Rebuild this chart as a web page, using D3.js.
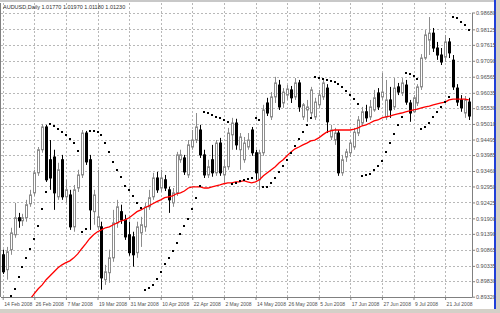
<!DOCTYPE html>
<html>
<head>
<meta charset="utf-8">
<script src="https://cdn.jsdelivr.net/npm/d3@7"></script>
<style>
  html, body { margin: 0; padding: 0; background: #fff; }
  svg { display: block; }
</style>
</head>
<body>
<div id="chart"></div>
<script>
// AUDUSD daily, 14 Feb 2008 .. 29 Jul 2008 (one bar per weekday)
const opens = [
  0.9070, 0.9021, 0.9087, 0.9136, 0.9192, 0.9182, 0.9192, 0.9238, 0.9274, 0.9340,
  0.9416, 0.9491, 0.9383, 0.9392, 0.9261, 0.9383, 0.9261, 0.9267, 0.9162, 0.9290,
  0.9333, 0.9471, 0.9383, 0.9212, 0.9162, 0.9162, 0.8988, 0.9011, 0.9060, 0.9175,
  0.9212, 0.9185, 0.9136, 0.9129, 0.9077, 0.9142, 0.9162, 0.9228, 0.9261, 0.9323,
  0.9290, 0.9317, 0.9284, 0.9241, 0.9274, 0.9383, 0.9389, 0.9333, 0.9425, 0.9448,
  0.9481, 0.9399, 0.9333, 0.9383, 0.9340, 0.9438, 0.9333, 0.9360, 0.9465, 0.9504,
  0.9416, 0.9383, 0.9425, 0.9481, 0.9406, 0.9317, 0.9406, 0.9570, 0.9524, 0.9590,
  0.9629, 0.9570, 0.9596, 0.9613, 0.9590, 0.9636, 0.9524, 0.9547, 0.9537, 0.9524,
  0.9564, 0.9590, 0.9619, 0.9458, 0.9448, 0.9471, 0.9340, 0.9392, 0.9406, 0.9425,
  0.9471, 0.9504, 0.9541, 0.9524, 0.9547, 0.9603, 0.9590, 0.9524, 0.9580, 0.9557,
  0.9623, 0.9603, 0.9629, 0.9570, 0.9541, 0.9570, 0.9623, 0.9718, 0.9777, 0.9800,
  0.9751, 0.9728, 0.9721, 0.9771, 0.9711, 0.9619, 0.9580, 0.9537, 0.9573
];
const highs = [
  0.9087, 0.9096, 0.9159, 0.9241, 0.9208, 0.9205, 0.9251, 0.9284, 0.9350, 0.9425,
  0.9501, 0.9498, 0.9448, 0.9416, 0.9373, 0.9399, 0.9317, 0.9284, 0.9300, 0.9350,
  0.9481, 0.9478, 0.9399, 0.9284, 0.9350, 0.9179, 0.9037, 0.9087, 0.9218, 0.9251,
  0.9235, 0.9202, 0.9179, 0.9146, 0.9179, 0.9195, 0.9241, 0.9284, 0.9340, 0.9343,
  0.9350, 0.9333, 0.9294, 0.9290, 0.9409, 0.9416, 0.9399, 0.9448, 0.9481, 0.9537,
  0.9498, 0.9416, 0.9383, 0.9432, 0.9448, 0.9455, 0.9383, 0.9488, 0.9521, 0.9518,
  0.9471, 0.9458, 0.9471, 0.9491, 0.9416, 0.9416, 0.9564, 0.9587, 0.9606, 0.9656,
  0.9646, 0.9619, 0.9629, 0.9626, 0.9652, 0.9646, 0.9570, 0.9580, 0.9623, 0.9587,
  0.9613, 0.9646, 0.9632, 0.9498, 0.9488, 0.9481, 0.9399, 0.9419, 0.9448, 0.9488,
  0.9527, 0.9557, 0.9564, 0.9580, 0.9613, 0.9619, 0.9669, 0.9646, 0.9623, 0.9652,
  0.9636, 0.9652, 0.9646, 0.9580, 0.9596, 0.9632, 0.9731, 0.9810, 0.9853, 0.9817,
  0.9771, 0.9751, 0.9794, 0.9784, 0.9728, 0.9632, 0.9596, 0.9593, 0.9587
];
const lows = [
  0.9007, 0.8988, 0.9070, 0.9126, 0.9159, 0.9165, 0.9179, 0.9228, 0.9264, 0.9330,
  0.9406, 0.9310, 0.9284, 0.9218, 0.9251, 0.9251, 0.9241, 0.9152, 0.9146, 0.9277,
  0.9323, 0.9366, 0.9152, 0.9169, 0.9152, 0.8955, 0.8971, 0.8978, 0.9047, 0.9159,
  0.9172, 0.9119, 0.9067, 0.9031, 0.9060, 0.9096, 0.9146, 0.9218, 0.9251, 0.9274,
  0.9277, 0.9280, 0.9208, 0.9228, 0.9264, 0.9373, 0.9333, 0.9323, 0.9416, 0.9438,
  0.9389, 0.9323, 0.9323, 0.9327, 0.9330, 0.9330, 0.9307, 0.9350, 0.9416, 0.9416,
  0.9350, 0.9373, 0.9416, 0.9396, 0.9317, 0.9284, 0.9396, 0.9527, 0.9514, 0.9570,
  0.9547, 0.9554, 0.9580, 0.9570, 0.9580, 0.9541, 0.9514, 0.9508, 0.9524, 0.9514,
  0.9554, 0.9580, 0.9471, 0.9448, 0.9432, 0.9330, 0.9330, 0.9376, 0.9392, 0.9416,
  0.9461, 0.9494, 0.9508, 0.9514, 0.9541, 0.9547, 0.9580, 0.9514, 0.9521, 0.9547,
  0.9596, 0.9593, 0.9564, 0.9508, 0.9537, 0.9560, 0.9613, 0.9712, 0.9728, 0.9738,
  0.9712, 0.9695, 0.9705, 0.9718, 0.9613, 0.9560, 0.9541, 0.9521, 0.9514
];
const closes = [
  0.9014, 0.9080, 0.9142, 0.9192, 0.9182, 0.9192, 0.9235, 0.9267, 0.9340, 0.9416,
  0.9491, 0.9317, 0.9323, 0.9274, 0.9350, 0.9261, 0.9284, 0.9162, 0.9284, 0.9333,
  0.9471, 0.9376, 0.9218, 0.9267, 0.9195, 0.8994, 0.9014, 0.9060, 0.9175, 0.9228,
  0.9185, 0.9129, 0.9077, 0.9070, 0.9162, 0.9169, 0.9228, 0.9258, 0.9323, 0.9284,
  0.9323, 0.9290, 0.9251, 0.9274, 0.9399, 0.9399, 0.9343, 0.9432, 0.9448, 0.9491,
  0.9399, 0.9333, 0.9360, 0.9340, 0.9438, 0.9340, 0.9360, 0.9471, 0.9504, 0.9432,
  0.9458, 0.9438, 0.9448, 0.9406, 0.9340, 0.9406, 0.9547, 0.9537, 0.9590, 0.9636,
  0.9557, 0.9606, 0.9616, 0.9587, 0.9636, 0.9557, 0.9564, 0.9557, 0.9613, 0.9573,
  0.9596, 0.9636, 0.9508, 0.9481, 0.9471, 0.9340, 0.9383, 0.9409, 0.9438, 0.9474,
  0.9514, 0.9541, 0.9521, 0.9557, 0.9587, 0.9557, 0.9606, 0.9580, 0.9547, 0.9619,
  0.9606, 0.9636, 0.9573, 0.9537, 0.9587, 0.9623, 0.9718, 0.9794, 0.9800, 0.9751,
  0.9728, 0.9705, 0.9771, 0.9735, 0.9623, 0.9573, 0.9554, 0.9580, 0.9527
];
// Parabolic SAR (null = below the visible range)
const sar = [
  null, null, 0.8935, 0.8958, 0.8998, 0.9031, 0.9060, 0.9090, 0.9123, 0.9165,
  0.9221, 0.9277, 0.9501, 0.9495, 0.9484, 0.9474, 0.9465, 0.9452, 0.9438, 0.9412,
  0.9146, 0.9155, 0.9478, 0.9478, 0.9474, 0.9465, 0.9438, 0.9409, 0.9376, 0.9350,
  0.9327, 0.9297, 0.9284, 0.9264, 0.9241, 0.9225, 0.8955, 0.8961, 0.8971, 0.8991,
  0.9014, 0.9040, 0.9060, 0.9083, 0.9110, 0.9139, 0.9165, 0.9188, 0.9221, 0.9258,
  0.9297, 0.9541, 0.9537, 0.9531, 0.9524, 0.9521, 0.9514, 0.9508, 0.9304, 0.9307,
  0.9314, 0.9317, 0.9320, 0.9323, 0.9521, 0.9514, 0.9294, 0.9294, 0.9307, 0.9323,
  0.9343, 0.9363, 0.9383, 0.9406, 0.9429, 0.9452, 0.9474, 0.9498, 0.9521, 0.9656,
  0.9652, 0.9649, 0.9646, 0.9642, 0.9639, 0.9632, 0.9623, 0.9610, 0.9596, 0.9583,
  0.9567, 0.9330, 0.9333, 0.9337, 0.9350, 0.9363, 0.9379, 0.9409, 0.9438, 0.9468,
  0.9498, 0.9524, 0.9669, 0.9666, 0.9659, 0.9649, 0.9484, 0.9491, 0.9504, 0.9524,
  0.9541, 0.9557, 0.9573, 0.9590, 0.9853, 0.9850, 0.9837, 0.9827, 0.9810
];
// moving average (red line), starts below the visible range
const ma = [
  null, null, null, null, null, null, null, 0.8925, 0.8942, 0.8958,
  0.8971, 0.8988, 0.9001, 0.9014, 0.9027, 0.9037, 0.9044, 0.9050, 0.9060, 0.9073,
  0.9090, 0.9106, 0.9123, 0.9136, 0.9146, 0.9152, 0.9159, 0.9162, 0.9169, 0.9175,
  0.9182, 0.9185, 0.9192, 0.9202, 0.9212, 0.9218, 0.9225, 0.9231, 0.9238, 0.9245,
  0.9251, 0.9258, 0.9261, 0.9264, 0.9271, 0.9274, 0.9280, 0.9290, 0.9294, 0.9294,
  0.9294, 0.9290, 0.9290, 0.9294, 0.9297, 0.9300, 0.9304, 0.9307, 0.9307, 0.9310,
  0.9310, 0.9314, 0.9310, 0.9307, 0.9310, 0.9317, 0.9330, 0.9340, 0.9350, 0.9360,
  0.9373, 0.9383, 0.9396, 0.9409, 0.9419, 0.9425, 0.9432, 0.9438, 0.9445, 0.9448,
  0.9455, 0.9465, 0.9474, 0.9478, 0.9481, 0.9481, 0.9481, 0.9481, 0.9481, 0.9484,
  0.9488, 0.9495, 0.9498, 0.9504, 0.9511, 0.9514, 0.9521, 0.9524, 0.9527, 0.9531,
  0.9534, 0.9537, 0.9541, 0.9544, 0.9547, 0.9550, 0.9554, 0.9557, 0.9560, 0.9564,
  0.9567, 0.9570, 0.9573, 0.9580, 0.9583, 0.9583, 0.9583, 0.9583, 0.9580
];
const priceTicks = [
  0.98680, 0.98125, 0.97615, 0.97090, 0.96565, 0.96035, 0.95530, 0.95010, 0.94495,
  0.93985, 0.93460, 0.92950, 0.92425, 0.91900, 0.91390, 0.90865, 0.90335, 0.89830, 0.89320
];
const dateTicks = [
  '14 Feb 2008', '26 Feb 2008', '7 Mar 2008', '19 Mar 2008', '31 Mar 2008',
  '10 Apr 2008', '22 Apr 2008', '2 May 2008', '14 May 2008', '26 May 2008',
  '5 Jun 2008', '17 Jun 2008', '27 Jun 2008', '9 Jul 2008', '21 Jul 2008'
];
const title = 'AUDUSD,Daily  1.01770 1.01970 1.01180 1.01230';

// weekday bars starting 14 Feb 2008
const parse = d3.timeParse('%d %b %Y');
const fmt = d3.timeFormat('%-d %b %Y');
const days = d3.timeDay.range(parse('14 Feb 2008'), parse('31 Jul 2008'))
  .filter(d => d.getDay() !== 0 && d.getDay() !== 6)
  .slice(0, closes.length);

const bars = closes.map((c, i) => ({
  i, date: days[i], o: opens[i], h: highs[i], l: lows[i], c, sar: sar[i], ma: ma[i]
}));

const W = 500, H = 313;
const plot = { left: 1, top: 3, right: 472, bottom: 297 };
const font = '"Liberation Sans", Arial, sans-serif';

const svg = d3.select('#chart').append('svg')
  .attr('width', W).attr('height', H)
  .style('font-family', font);

// window chrome
svg.append('rect').attr('width', W).attr('height', H).attr('fill', '#ffffff');
svg.append('rect').attr('x', 0).attr('y', 309).attr('width', W).attr('height', 4).attr('fill', '#d4d0c8');
svg.append('rect').attr('x', 494).attr('y', 0).attr('width', 2).attr('height', 309).attr('fill', '#1f3fd8');
svg.append('rect').attr('x', 496).attr('y', 0).attr('width', 4).attr('height', 309).attr('fill', '#d4d0c8');
svg.append('rect').attr('x', 0).attr('y', 0).attr('width', 494).attr('height', 2).attr('fill', '#c8c8c8');

const x = d3.scaleLinear().domain([0, 112]).range([2.7, 445.1]);
const y = d3.scaleLinear().domain([0.8932, 0.9868]).range([296.7, 12.5]);

svg.append('clipPath').attr('id', 'clip').append('rect')
  .attr('x', plot.left).attr('y', plot.top)
  .attr('width', plot.right - plot.left).attr('height', plot.bottom - plot.top);

const dateIdx = dateTicks.map(t => days.findIndex(d => fmt(d) === t));

// grid
const grid = svg.append('g').attr('clip-path', 'url(#clip)')
  .attr('stroke', '#b8b8b8').attr('stroke-width', 1).attr('stroke-dasharray', '2,2');
grid.selectAll('.hg').data(priceTicks).enter().append('line')
  .attr('x1', plot.left).attr('x2', plot.right)
  .attr('y1', d => Math.round(y(d)) + 0.5).attr('y2', d => Math.round(y(d)) + 0.5);
grid.selectAll('.vg').data(dateIdx).enter().append('line')
  .attr('y1', plot.top).attr('y2', plot.bottom)
  .attr('x1', d => Math.round(x(d)) + 0.5).attr('x2', d => Math.round(x(d)) + 0.5);

// axes
const yAxis = svg.append('g')
  .attr('transform', `translate(${plot.right},0)`)
  .call(d3.axisRight(y).tickValues(priceTicks).tickFormat(d3.format('.5f')).tickSize(3).tickSizeOuter(0));
yAxis.select('.domain').attr('stroke', '#808080');
yAxis.selectAll('line').attr('stroke', '#808080');
yAxis.selectAll('text').attr('font-size', 5.5).attr('fill', '#505050').attr('x', 4)
  .attr('font-family', font);

const xAxis = svg.append('g')
  .attr('transform', `translate(0,${plot.bottom})`)
  .call(d3.axisBottom(x).tickValues(dateIdx).tickFormat((d, k) => dateTicks[k]).tickSize(3).tickSizeOuter(0));
xAxis.select('.domain').attr('d', `M${plot.left},0.5H${plot.right}`).attr('stroke', '#808080');
xAxis.selectAll('line').attr('stroke', '#808080');
xAxis.selectAll('text').attr('font-size', 5).attr('fill', '#505050')
  .attr('text-anchor', 'start').attr('dx', 1).attr('y', 5)
  .attr('font-family', font);

svg.append('line').attr('x1', 0.5).attr('x2', 0.5).attr('y1', plot.top).attr('y2', plot.bottom)
  .attr('stroke', '#808080');

// candles
const layer = svg.append('g').attr('clip-path', 'url(#clip)');
const candle = layer.selectAll('.candle').data(bars).enter().append('g');
candle.append('line')
  .attr('x1', d => Math.round(x(d.i)) + 0.5).attr('x2', d => Math.round(x(d.i)) + 0.5)
  .attr('y1', d => y(d.h)).attr('y2', d => y(d.l))
  .attr('stroke', d => d.c >= d.o ? '#8c8c8c' : '#000');
candle.append('rect')
  .attr('x', d => Math.round(x(d.i)) - 1 + 0.5)
  .attr('width', 2)
  .attr('y', d => y(Math.max(d.o, d.c)))
  .attr('height', d => Math.max(1, Math.abs(y(d.o) - y(d.c))))
  .attr('fill', d => d.c >= d.o ? '#ffffff' : '#000000')
  .attr('stroke', d => d.c >= d.o ? '#8c8c8c' : '#000000')
  .attr('stroke-width', 1);

// moving average
layer.append('path')
  .datum(bars.filter(d => d.ma != null))
  .attr('fill', 'none').attr('stroke', '#ff0000').attr('stroke-width', 1.3)
  .attr('d', d3.line().x(d => x(d.i)).y(d => y(d.ma)));

// parabolic SAR
layer.selectAll('.sar').data(bars.filter(d => d.sar != null)).enter().append('rect')
  .attr('x', d => Math.round(x(d.i)) - 1)
  .attr('y', d => Math.round(y(d.sar)) - 1)
  .attr('width', 2).attr('height', 2)
  .attr('fill', '#000');

// title
svg.append('text').attr('x', 3).attr('y', 9)
  .attr('font-size', 5.5).attr('fill', '#303030')
  .text(title);
</script>
</body>
</html>
